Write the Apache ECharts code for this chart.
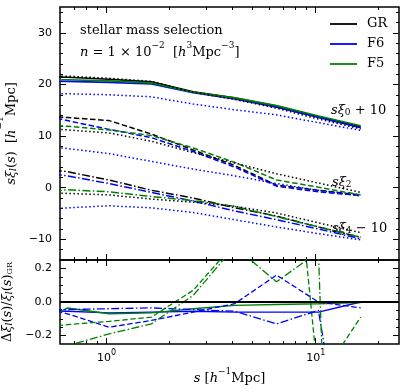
<!DOCTYPE html>
<html><head><meta charset="utf-8">
<script src="https://cdn.jsdelivr.net/npm/echarts@6/dist/echarts.min.js"></script>
<style>html,body{margin:0;padding:0;background:#fff}#c{width:407px;height:392px}</style>
</head><body><div id="c"></div>
<script>
// separations s [h^-1 Mpc]
const sBins = [0.41, 0.65, 1.03, 1.64, 2.6, 4.1, 6.5, 10.3, 16.4];
// top panel: s*xi_l(s) (+offsets already included)
const grXi0 = [21.5, 21.4, 21.0, 20.5, 18.6, 17.4, 15.8, 13.8, 11.8];
const f6Xi0 = [20.7, 20.6, 20.4, 20.1, 18.4, 17.2, 15.6, 13.6, 11.6];
const f5Xi0 = [21.0, 20.9, 20.7, 20.3, 18.5, 17.4, 15.9, 13.9, 12.0];
const grXi2 = [14.2, 13.6, 13.0, 10.4, 7.3, 4.3, 0.5, -0.5, -1.4];
const f6Xi2 = [14.9, 13.0, 11.3, 9.7, 7.0, 4.0, 0.3, -0.8, -1.5];
const f5Xi2 = [12.5, 11.9, 11.2, 10.1, 7.7, 4.9, 1.5, 0.1, -1.4];
const grXi4 = [4.0, 3.1, 1.5, -0.5, -2.0, -3.9, -5.5, -7.6, -9.6];
const f6Xi4 = [3.3, 2.3, 0.8, -0.9, -2.6, -4.5, -6.2, -8.0, -9.9];
const f5Xi4 = [-1.2, -0.4, -0.8, -1.7, -2.5, -3.6, -5.6, -7.6, -9.6];
// dotted reference curves
const grDotXi0 = [21.7, 21.6, 21.2, 20.6, 18.5, 17.1, 15.4, 13.3, 11.4];
const f6DotXi0 = [18.2, 18.2, 18.0, 17.6, 16.2, 15.1, 14.1, 12.6, 11.1];
const grDotXi2 = [11.8, 11.2, 10.6, 9.0, 6.8, 4.8, 2.7, 0.9, -0.9];
const f6DotXi2 = [8.3, 7.6, 6.6, 5.1, 3.6, 2.3, 0.8, -0.5, -1.6];
const grDotXi4 = [-0.8, -1.1, -1.4, -2.2, -2.8, -3.6, -4.9, -6.8, -8.7];
const f6DotXi4 = [-4.4, -3.9, -3.5, -3.9, -4.8, -6.2, -7.6, -8.9, -10.1];
// bottom panel: relative difference to GR
const f6Rel0 = [-0.05, -0.055, -0.065, -0.06, -0.055, -0.06, -0.06, -0.06, 0.0];
const f5Rel0 = [-0.16, -0.036, -0.07, -0.065, -0.04, -0.02, -0.015, -0.01, -0.003];
const f6Rel2 = [-0.01, -0.07, -0.15, -0.11, -0.06, -0.01, 0.16, 0.0, -0.035];
const f5Rel2 = [-0.16, -0.135, -0.115, -0.09, 0.07, 0.35, 2.05, -0.47, -0.09];
const f6Rel4 = [-0.05, -0.045, -0.04, -0.035, -0.045, -0.055, -0.13, -0.05, -1.56];
const f5Rel4 = [-0.4, -0.26, -0.19, -0.13, 0.04, 0.33, 0.12, 0.30, -6.8];
// ticks
const xMajorTicks = [1, 10];
const xMinorTicks = [0.7, 0.8, 0.9, 2, 3, 4, 5, 6, 7, 8, 9, 20];
const yTopMajor = [-10, 0, 10, 20, 30];
const yTopMinor = [-12, -8, -6, -4, -2, 2, 4, 6, 8, 12, 14, 16, 18, 22, 24, 26, 28, 32, 34];
const yBotMajor = [-0.2, 0, 0.2];
const yBotMinor = [-0.15, -0.1, -0.05, 0.05, 0.1, 0.15];

const BLACK = '#000000', BLUE = '#0000ff', GREEN = '#008000';
const SOLID = 'solid', DASH = [5.5, 2.6], DASHDOT = [8, 2.4, 1.5, 2.4], DOT = [1.5, 2.5];
const SERIF = 'DejaVu Serif';
const SANS = 'DejaVu Sans';

const G0 = {left: 60, top: 7, width: 339, height: 253};
const G1 = {left: 60, top: 260, width: 339, height: 84};

function xAx(grid, pos, ticks, len, extra) {
  return Object.assign({
    type: 'log', gridIndex: grid, position: pos, min: 0.6, max: 25, logBase: 10,
    axisLine: {show: false, onZero: false}, splitLine: {show: false},
    axisTick: {show: true, inside: true, length: len, customValues: ticks, lineStyle: {color: '#000', width: 1}},
    axisLabel: {show: false}
  }, extra || {});
}
function yAx(grid, pos, min, max, ticks, len, extra) {
  return Object.assign({
    type: 'value', gridIndex: grid, position: pos, min: min, max: max,
    axisLine: {show: false, onZero: false}, splitLine: {show: false},
    axisTick: {show: true, inside: true, length: len, customValues: ticks, lineStyle: {color: '#000', width: 1}},
    axisLabel: {show: false}
  }, extra || {});
}
const minus = v => (v < 0 ? '\u2212' : '') + Math.abs(v);

const xAxes = [
  xAx(0, 'bottom', xMajorTicks, 6), xAx(0, 'bottom', xMinorTicks, 3),
  xAx(0, 'top', xMajorTicks, 6), xAx(0, 'top', xMinorTicks, 3),
  xAx(1, 'bottom', xMajorTicks, 6, {
    axisLabel: {show: true, customValues: xMajorTicks, margin: 5,
      formatter: v => '{b|10}{sup|' + Math.round(Math.log10(v)) + '}',
      rich: {b: {fontFamily: SANS, fontSize: 11, color: '#000', lineHeight: 15, verticalAlign: 'bottom'},
             sup: {fontFamily: SANS, fontSize: 8, color: '#000', lineHeight: 15, verticalAlign: 'top'}}},
    name: '{i|s}{r| [}{i|h}{sup|\u22121}{r|Mpc]}', nameLocation: 'middle', nameGap: 23,
    nameTextStyle: {rich: {
      i: {fontFamily: SERIF, fontStyle: 'italic', fontSize: 13, color: '#000', lineHeight: 18, verticalAlign: 'bottom'},
      r: {fontFamily: SERIF, fontSize: 13, color: '#000', lineHeight: 18, verticalAlign: 'bottom'},
      sup: {fontFamily: SERIF, fontSize: 9, color: '#000', lineHeight: 18, verticalAlign: 'top'}}}
  }),
  xAx(1, 'bottom', xMinorTicks, 3),
  xAx(1, 'top', xMajorTicks, 6), xAx(1, 'top', xMinorTicks, 3)
];
const nameRich = {
  i: {fontFamily: SERIF, fontStyle: 'italic', fontSize: 13, color: '#000', lineHeight: 18, verticalAlign: 'bottom'},
  r: {fontFamily: SERIF, fontSize: 13, color: '#000', lineHeight: 18, verticalAlign: 'bottom'},
  sup: {fontFamily: SERIF, fontSize: 9, color: '#000', lineHeight: 18, verticalAlign: 'top'},
  sub: {fontFamily: SERIF, fontStyle: 'italic', fontSize: 9, color: '#000', lineHeight: 22, verticalAlign: 'bottom'},
  subr: {fontFamily: SERIF, fontSize: 8, color: '#000', lineHeight: 22, verticalAlign: 'bottom'}
};
const yAxes = [
  yAx(0, 'left', -14, 35, yTopMajor, 6, {
    axisLabel: {show: true, customValues: yTopMajor, formatter: minus, fontFamily: SANS, fontSize: 11, color: '#000', margin: 8},
    name: '{i|s\u03be}{sub|l}{r|(}{i|s}{r|)  [}{i|h}{sup|\u22121}{r|Mpc]}', nameLocation: 'middle', nameRotate: 90, nameGap: 33,
    nameTextStyle: {rich: nameRich}
  }),
  yAx(0, 'left', -14, 35, yTopMinor, 3),
  yAx(0, 'right', -14, 35, yTopMajor, 6),
  yAx(0, 'right', -14, 35, yTopMinor, 3),
  yAx(1, 'left', -0.25, 0.25, yBotMajor, 6, {
    axisLabel: {show: true, customValues: yBotMajor, formatter: v => (v < 0 ? '\u2212' : '') + Math.abs(v).toFixed(1), fontFamily: SANS, fontSize: 11, color: '#000', margin: 8},
    name: '{r|\u0394}{i|\u03be}{sub|l}{r|(}{i|s}{r|)/}{i|\u03be}{sub|l}{r|(}{i|s}{r|)}{subr|GR}', nameLocation: 'middle', nameRotate: 90, nameGap: 33,
    nameTextStyle: {rich: nameRich}
  }),
  yAx(1, 'left', -0.25, 0.25, yBotMinor, 3),
  yAx(1, 'right', -0.25, 0.25, yBotMajor, 6),
  yAx(1, 'right', -0.25, 0.25, yBotMinor, 3)
];

function line(name, vals, xi, yi, color, type, width) {
  return {
    type: 'line', name: name, xAxisIndex: xi, yAxisIndex: yi,
    data: sBins.map((s, i) => [s, vals[i]]),
    symbol: 'none', showSymbol: false, silent: true, animation: false, clip: true,
    lineStyle: {color: color, width: width, type: type}, itemStyle: {color: color}
  };
}
const series = [
  line('GR', grXi0, 0, 0, BLACK, SOLID, 1.6),
  line('F6', f6Xi0, 0, 0, BLUE, SOLID, 1.6),
  line('F5', f5Xi0, 0, 0, GREEN, SOLID, 1.6),
  line('GR', grXi2, 0, 0, BLACK, DASH, 1.5),
  line('F6', f6Xi2, 0, 0, BLUE, DASH, 1.5),
  line('F5', f5Xi2, 0, 0, GREEN, DASH, 1.5),
  line('GR', grXi4, 0, 0, BLACK, DASHDOT, 1.5),
  line('F6', f6Xi4, 0, 0, BLUE, DASHDOT, 1.5),
  line('F5', f5Xi4, 0, 0, GREEN, DASHDOT, 1.5),
  line('GR lin', grDotXi0, 0, 0, BLACK, DOT, 1.5),
  line('F6 lin', f6DotXi0, 0, 0, BLUE, DOT, 1.5),
  line('GR lin', grDotXi2, 0, 0, BLACK, DOT, 1.5),
  line('F6 lin', f6DotXi2, 0, 0, BLUE, DOT, 1.5),
  line('GR lin', grDotXi4, 0, 0, BLACK, DOT, 1.5),
  line('F6 lin', f6DotXi4, 0, 0, BLUE, DOT, 1.5),
  line('F6', f6Rel0, 4, 4, BLUE, SOLID, 1.4),
  line('F5', f5Rel0, 4, 4, GREEN, SOLID, 1.4),
  line('F6', f6Rel2, 4, 4, BLUE, DASH, 1.3),
  line('F5', f5Rel2, 4, 4, GREEN, DASH, 1.3),
  line('F6', f6Rel4, 4, 4, BLUE, DASHDOT, 1.3),
  line('F5', f5Rel4, 4, 4, GREEN, DASHDOT, 1.3)
];
series[15].markLine = {symbol: 'none', silent: true, animation: false, label: {show: false},
  lineStyle: {color: '#000', width: 2, type: 'solid'}, data: [{yAxis: 0}]};

const txtRich = {
  i: {fontFamily: SERIF, fontStyle: 'italic', fontSize: 13, fill: '#000', lineHeight: 18, verticalAlign: 'bottom'},
  r: {fontFamily: SERIF, fontSize: 13, fill: '#000', lineHeight: 18, verticalAlign: 'bottom'},
  sup: {fontFamily: SERIF, fontSize: 9, fill: '#000', lineHeight: 18, verticalAlign: 'top'},
  sub: {fontFamily: SERIF, fontSize: 9, fill: '#000', lineHeight: 22, verticalAlign: 'bottom'}
};
function gtext(text, x, y) {
  return {type: 'text', x: x, y: y, silent: true,
    style: {text: text, rich: txtRich, verticalAlign: 'middle', align: 'left', fill: '#000', font: '13px "DejaVu Serif"'}};
}

const gridBase = {show: true, borderColor: '#000', borderWidth: 1.5, backgroundColor: 'transparent', containLabel: false, outerBoundsMode: 'none'};
const option = {
  animation: false,
  backgroundColor: '#fff',
  grid: [Object.assign({}, gridBase, G0), Object.assign({}, gridBase, G1)],
  xAxis: xAxes,
  yAxis: yAxes,
  legend: {
    data: ['GR', 'F6', 'F5'], orient: 'vertical', left: 330, top: 16, padding: 0,
    icon: 'rect', itemWidth: 27, itemHeight: 1.8, itemGap: 4, selectedMode: false,
    textStyle: {fontFamily: SERIF, fontSize: 13, color: '#000', padding: [0, 0, 0, 5], lineHeight: 16}
  },
  graphic: [
    gtext('{r|stellar mass selection}', 80, 28),
    gtext('{i|n}{r| = 1 \u00d7 10}{sup|\u22122}{r|  [}{i|h}{sup|3}{r|Mpc}{sup|\u22123}{r|]}', 80, 50),
    gtext('{i|s\u03be}{sub|0}{r| + 10}', 331, 106),
    gtext('{i|s\u03be}{sub|2}', 332, 178),
    gtext('{i|s\u03be}{sub|4}{r| \u2212 10}', 332, 224)
  ],
  series: series
};
const chart = echarts.init(document.getElementById('c'), null, {renderer: 'canvas'});
chart.setOption(option);
</script></body></html>
